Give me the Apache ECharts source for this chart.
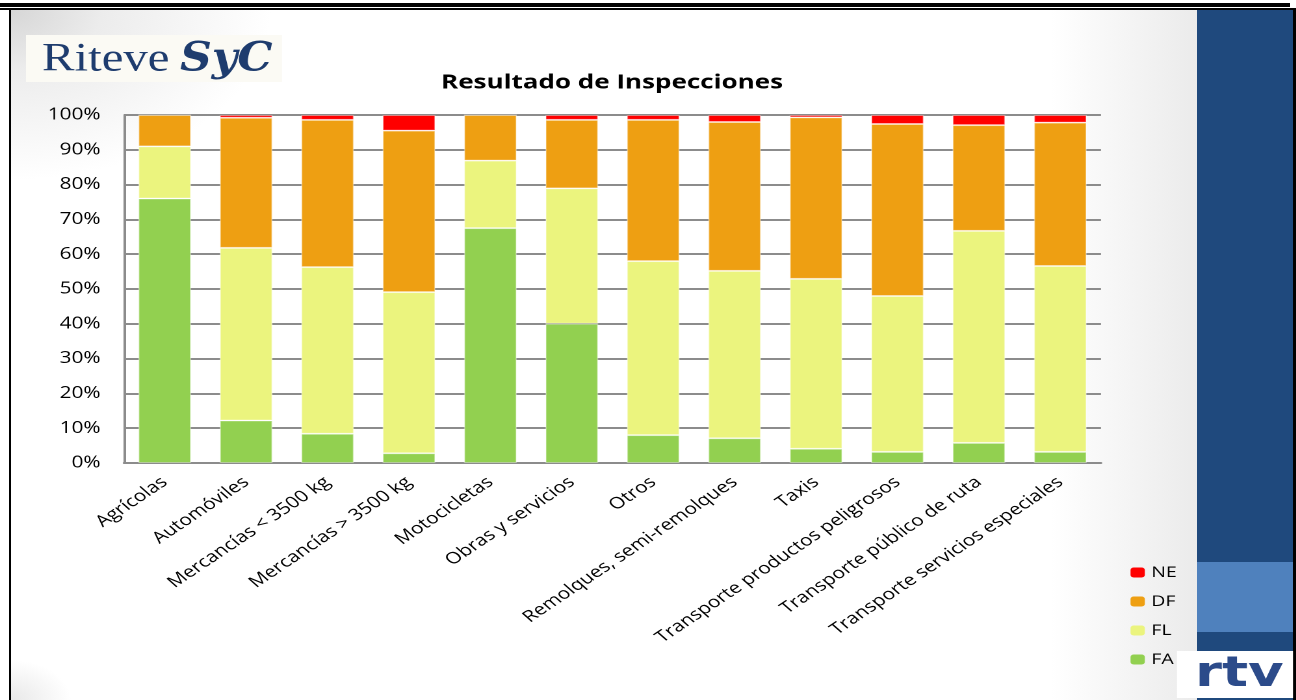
<!DOCTYPE html>
<html>
<head>
<meta charset="utf-8">
<title>Resultado de Inspecciones</title>
<script src="https://cdn.jsdelivr.net/npm/echarts@6/dist/echarts.min.js"></script>
<style>
  html, body { margin: 0; padding: 0; background: #fff; }
  #page { position: relative; width: 1296px; height: 700px; overflow: hidden; background: #fff; }
  .abs { position: absolute; }
  #slide-bg {
    left: 11px; top: 10px; width: 1186px; height: 690px;
    background:
      radial-gradient(ellipse 260px 170px at 0 0, #d6d6d6 0%, #ececec 35%, rgba(255,255,255,0) 100%),
      radial-gradient(ellipse 60px 40px at 0 100%, #e8e8e8 0%, rgba(255,255,255,0) 100%),
      linear-gradient(to right, rgba(255,255,255,0) 0, rgba(255,255,255,0) 1040px, #ebebeb 1186px),
      #fff;
  }
  /* the source slide is stretched sideways, so the chart is drawn narrower and widened */
  #chart { left: 0; top: 0; width: 997px; height: 700px; transform: scaleX(1.3); transform-origin: 0 0; }
</style>
</head>
<body>
<div id="page">
  <div class="abs" id="slide-bg"></div>
  <div class="abs" style="left:0;top:3px;width:1290px;height:4px;background:#000"></div>
  <div class="abs" style="left:0;top:8px;width:1296px;height:2px;background:#000"></div>
  <div class="abs" style="left:9px;top:10px;width:2px;height:690px;background:#000"></div>
  <div class="abs" style="left:1197px;top:10px;width:96px;height:690px;background:#1f497d"></div>
  <div class="abs" style="left:1197px;top:562px;width:96px;height:70px;background:#4f81bd"></div>
  <div class="abs" style="left:1293px;top:8px;width:3px;height:692px;background:#000"></div>
  <div class="abs" id="chart"></div>
</div>
<script>
const categories = [
  "Agrícolas",
  "Automóviles",
  "Mercancías < 3500 kg",
  "Mercancías > 3500 kg",
  "Motocicletas",
  "Obras y servicios",
  "Otros",
  "Remolques, semi-remolques",
  "Taxis",
  "Transporte productos peligrosos",
  "Transporte público de ruta",
  "Transporte servicios especiales"
];

// percentages per category, bottom to top of each stack
const faValues = [76, 12.2, 8.4, 2.8, 67.5, 40, 8, 7.1, 4.1, 3.2, 5.8, 3.2];
const flValues = [15, 49.6, 47.9, 46.3, 19.4, 38.9, 50, 48.1, 48.8, 44.8, 60.9, 53.4];
const dfValues = [9, 37.4, 42.3, 46.4, 13.1, 19.7, 40.6, 42.8, 46.4, 49.4, 30.4, 41.2];
const neValues = [0, 0.8, 1.4, 4.5, 0, 1.4, 1.4, 2.0, 0.7, 2.6, 2.9, 2.2];

const seriesNames = ["FA", "FL", "DF", "NE"];
const seriesColors = ["#92d050", "#ebf47e", "#ee9f12", "#ff0000"];
const legendOrder = ["NE", "DF", "FL", "FA"];

const FONT = '"Open Sans", "Liberation Sans", sans-serif';
const SX = 1.3; // horizontal stretch of the container

const chart = echarts.init(document.getElementById("chart"), null, {
  renderer: "canvas",
  devicePixelRatio: 2
});

const seriesData = [faValues, flValues, dfValues, neValues];

chart.setOption({
  backgroundColor: "transparent",
  animation: false,
  textStyle: { fontFamily: FONT },
  grid: { left: 124 / SX, right: 997 - 1101 / SX, top: 115, bottom: 237, containLabel: false },
  legend: {
    data: legendOrder,
    orient: "vertical",
    left: 1124 / SX,
    top: 560,
    itemWidth: 11,
    itemHeight: 10,
    itemGap: 14,
    itemStyle: { borderWidth: 0 },
    textStyle: { fontFamily: FONT, fontSize: 15, color: "#000" }
  },
  xAxis: {
    type: "category",
    data: categories,
    axisLine: { show: true, lineStyle: { color: "#8c8c8c", width: 2 } },
    axisTick: { show: false },
    axisLabel: {
      interval: 0,
      rotate: 41,
      margin: 17,
      fontFamily: FONT,
      fontSize: 16,
      color: "#000"
    }
  },
  yAxis: {
    type: "value",
    min: 0,
    max: 100,
    interval: 10,
    axisLine: { show: true, lineStyle: { color: "#8c8c8c", width: 2 } },
    axisTick: { show: false },
    splitLine: { lineStyle: { color: "#8c8c8c", width: 2 } },
    axisLabel: {
      formatter: "{value}%",
      margin: 18,
      fontFamily: FONT,
      fontSize: 16,
      color: "#000"
    }
  },
  series: seriesNames.map((name, i) => ({
    name,
    type: "bar",
    stack: "total",
    barCategoryGap: "35%",
    data: seriesData[i],
    itemStyle: {
      color: seriesColors[i],
      borderColor: "rgba(255,255,255,0.35)",
      borderWidth: 1
    }
  })),
  graphic: [
    {
      type: "text",
      x: 612 / SX,
      y: 83,
      style: {
        text: "Resultado de Inspecciones",
        align: "center",
        verticalAlign: "middle",
        font: 'bold 20px ' + FONT,
        fill: "#000"
      }
    },
    {
      type: "rect",
      shape: { x: 26 / SX, y: 35, width: 256 / SX, height: 47 },
      style: { fill: "#fbfaf4" }
    },
    {
      type: "text",
      x: 42 / SX,
      y: 60,
      scaleX: 1.22 / SX,
      style: {
        text: "Riteve",
        verticalAlign: "middle",
        font: '40px "Liberation Serif", serif',
        fill: "#1e3c6e"
      }
    },
    {
      type: "text",
      x: 180 / SX,
      y: 60,
      scaleX: 1.1 / SX,
      style: {
        text: "SyC",
        verticalAlign: "middle",
        font: 'italic bold 40px "DejaVu Serif", serif',
        fill: "#1e3c6e"
      }
    },
    {
      type: "rect",
      shape: { x: 1177 / SX, y: 651, width: 116 / SX, height: 47 },
      style: { fill: "#ffffff" }
    },
    {
      type: "text",
      x: 1195 / SX,
      y: 675,
      scaleX: 1.3 / SX,
      style: {
        text: "rtv",
        verticalAlign: "middle",
        font: 'bold 42px "DejaVu Sans", sans-serif',
        fill: "#2c4b8a"
      }
    }
  ]
});
</script>
</body>
</html>
